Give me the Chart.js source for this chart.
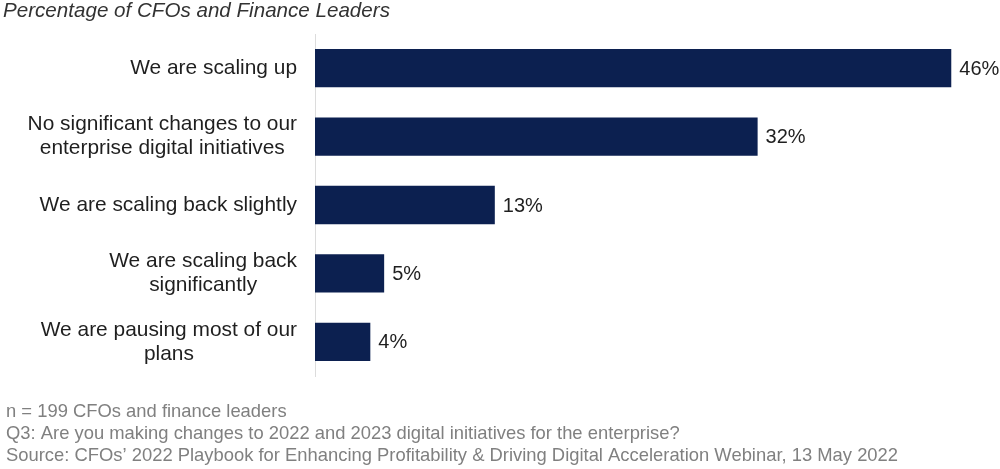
<!DOCTYPE html>
<html>
<head>
<meta charset="utf-8">
<script src="https://cdn.jsdelivr.net/npm/chart.js@4"></script>
<style>
  html, body { margin: 0; padding: 0; background: #fff; }
  #wrap { width: 1000px; height: 469px; position: relative; }
</style>
</head>
<body>
<div id="wrap"><canvas id="cfoChart"></canvas></div>
<script>
// Survey answers, one array of lines per label
const categories = [
  ['We are scaling up'],
  ['No significant changes to our', 'enterprise digital initiatives'],
  ['We are scaling back slightly'],
  ['We are scaling back', 'significantly'],
  ['We are pausing most of our', 'plans']
];
const shares = [46, 32, 13, 5, 4];
const titleText = 'Percentage of CFOs and Finance Leaders';
const footerLines = [
  'n = 199 CFOs and finance leaders',
  'Q3: Are you making changes to 2022 and 2023 digital initiatives for the enterprise?',
  'Source: CFOs\u2019 2022 Playbook for Enhancing Profitability & Driving Digital Acceleration Webinar, 13 May 2022'
];

const FONT = '"Liberation Sans", Arial, sans-serif';

// labels, values, title and notes drawn by hand
const textPlugin = {
  id: 'textPlugin',
  afterDraw(chart) {
    const ctx = chart.ctx;
    const yScale = chart.scales.y;
    const meta = chart.getDatasetMeta(0);
    ctx.save();

    // category labels: block right aligned, lines centred in block
    ctx.font = '20.9px ' + FONT;
    ctx.fillStyle = '#1f1f1f';
    ctx.textAlign = 'center';
    ctx.textBaseline = 'middle';
    categories.forEach((lines, i) => {
      const w = Math.max(...lines.map(l => ctx.measureText(l).width));
      const cx = 297 - w / 2;
      const cy = yScale.getPixelForTick(i);
      const lh = 24;
      lines.forEach((l, j) => {
        ctx.fillText(l, cx, cy + (j - (lines.length - 1) / 2) * lh);
      });
    });

    // value labels
    ctx.font = '20px ' + FONT;
    ctx.textAlign = 'left';
    meta.data.forEach((bar, i) => {
      ctx.fillText(shares[i] + '%', bar.x + 8, bar.y + 1);
    });

    // title
    ctx.font = 'italic 20.6px ' + FONT;
    ctx.fillStyle = '#333333';
    ctx.fillText(titleText, 3, 11);

    // notes
    ctx.font = '18.4px ' + FONT;
    ctx.fillStyle = '#808080';
    footerLines.forEach((l, j) => {
      ctx.fillText(l, 6, 412 + j * 22);
    });
    ctx.restore();
  }
};

new Chart(document.getElementById('cfoChart').getContext('2d'), {
  type: 'bar',
  data: {
    labels: categories,
    datasets: [{
      data: shares,
      backgroundColor: '#0c2050',
      borderColor: '#0c2050',
      borderWidth: 0,
      barPercentage: 0.56,
      categoryPercentage: 1
    }]
  },
  options: {
    indexAxis: 'y',
    responsive: true,
    maintainAspectRatio: false,
    animation: false,
    layout: { padding: { left: 315, top: 34, right: 10, bottom: 93 } },
    scales: {
      x: { display: false, min: 0, max: 48.8 },
      y: {
        display: true,
        ticks: { display: false },
        grid: { display: false, drawTicks: false },
        border: { display: true, color: '#dcdcdc', width: 1 }
      }
    },
    plugins: {
      legend: { display: false },
      tooltip: { enabled: false }
    }
  },
  plugins: [textPlugin]
});
</script>
</body>
</html>
